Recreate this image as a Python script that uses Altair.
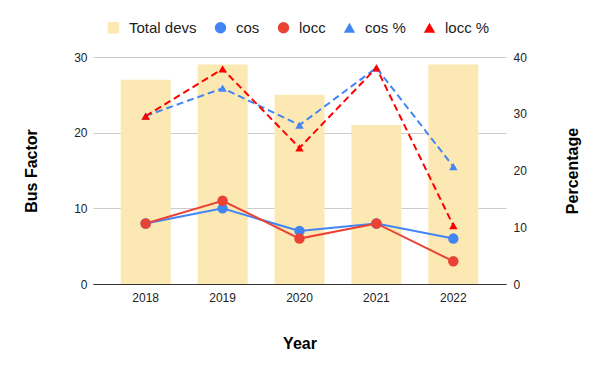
import altair as alt
import pandas as pd

years = ["2018", "2019", "2020", "2021", "2022"]
total_devs = [27, 29, 25, 21, 29]
cos = [8, 10, 7, 8, 6]
locc = [8, 11, 6, 8, 3]
cos_pct = [29.6, 34.5, 28.0, 38.1, 20.7]
locc_pct = [29.6, 37.9, 24.0, 38.1, 10.3]

series = ["Total devs", "cos", "locc", "cos %", "locc %"]
colors = ["#FCE8B2", "#4285F4", "#EA4335", "#4285F4", "#FF0000"]
shapes = ["square", "circle", "circle", "triangle-up", "triangle-up"]

bars_df = pd.DataFrame({"year": years, "value": total_devs, "series": "Total devs"})
left_df = pd.concat([
    pd.DataFrame({"year": years, "value": cos, "series": "cos"}),
    pd.DataFrame({"year": years, "value": locc, "series": "locc"}),
])
right_df = pd.concat([
    pd.DataFrame({"year": years, "pct": cos_pct, "series": "cos %"}),
    pd.DataFrame({"year": years, "pct": locc_pct, "series": "locc %"}),
])

legend = alt.Legend(
    title=None, orient="none", direction="horizontal",
    legendX=13, legendY=-37,
    labelFontSize=15, labelColor="#222", labelOffset=8,
    symbolSize=130, columnPadding=16, symbolStrokeWidth=0,
)
color = alt.Color("series:N", scale=alt.Scale(domain=series, range=colors), sort=series, legend=legend)
shape = alt.Shape("series:N", scale=alt.Scale(domain=series, range=shapes), sort=series, legend=legend)
stroke = alt.Stroke("series:N", scale=alt.Scale(domain=series, range=colors), legend=None)

x = alt.X(
    "year:N",
    scale=alt.Scale(paddingInner=0.35, paddingOuter=0.36),
    axis=alt.Axis(title="Year", labelAngle=0, ticks=False, domainColor="#333",
                  labelPadding=8, titlePadding=32),
)
y_left = alt.Y(
    "value:Q",
    scale=alt.Scale(domain=[0, 30]),
    axis=alt.Axis(title="Bus Factor", values=[0, 10, 20, 30], grid=True, gridColor="#ccc",
                  domain=False, ticks=False, labelPadding=6, titlePadding=34),
)
y_right = alt.Y(
    "pct:Q",
    scale=alt.Scale(domain=[0, 40]),
    axis=alt.Axis(title="Percentage", orient="right", values=[0, 10, 20, 30, 40], grid=False,
                  domain=False, ticks=False, labelPadding=7, titlePadding=54, titleAngle=270),
)

bars = alt.Chart(bars_df).mark_bar().encode(x=x, y=y_left, color=color)
line_left = alt.Chart(left_df).mark_line(strokeWidth=2).encode(x=x, y=y_left, stroke=stroke)
pts_left = alt.Chart(left_df).mark_point(filled=True, size=110, opacity=1).encode(
    x=x, y=y_left, color=color, shape=shape)
line_right = alt.Chart(right_df).mark_line(strokeWidth=2, strokeDash=[7, 4]).encode(
    x=x, y=y_right, stroke=stroke)
pts_right = alt.Chart(right_df).mark_point(filled=True, size=70, opacity=1).encode(
    x=x, y=y_right, color=color, shape=shape)

left = alt.layer(bars, line_left, pts_left)
right = alt.layer(line_right, pts_right)

chart = alt.layer(left, right).resolve_scale(y="independent").properties(
    width=413, height=227,
    autosize=alt.AutoSizeParams(type="none"),
    padding={"left": 85, "top": 49, "right": 80, "bottom": 70},
).configure(
    font="Liberation Sans",
).configure_axis(
    labelFontSize=12, labelColor="#222", titleFontSize=16, titleFontWeight="bold", titleColor="#000",
).configure_view(stroke=None)

chart.save("out.html", embed_options={"renderer": "svg", "actions": False})
